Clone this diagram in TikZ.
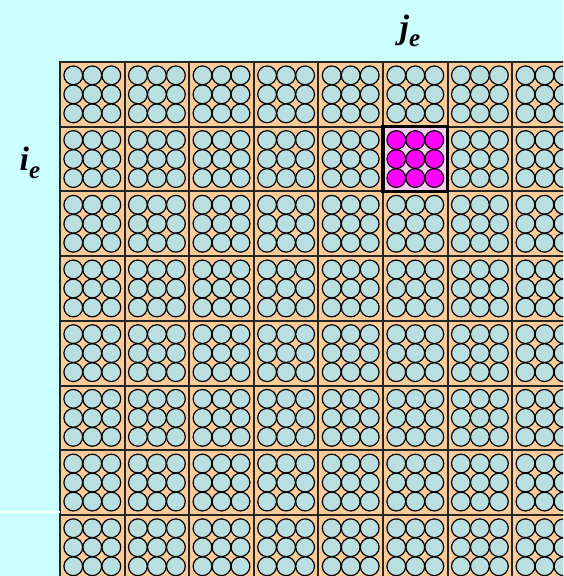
\documentclass[tikz,border=0pt]{standalone}
\usepackage{fontspec}
\setmainfont{Liberation Serif}
\usepackage{xcolor}
\definecolor{bgcyan}{RGB}{204,255,255}
\definecolor{peach}{RGB}{255,204,153}
\definecolor{pebble}{RGB}{186,223,225}
\definecolor{hlpink}{RGB}{252,204,240}
\definecolor{hlmag}{RGB}{255,0,255}

\begin{document}
\begin{tikzpicture}[x=1pt, y=-1pt,
  cell/.style={draw=black!85, line width=2pt, fill=peach},
  pin/.style={draw=black, line width=1.2pt, fill=pebble},
  hcell/.style={draw=black, line width=3.2pt, fill=hlpink},
  hpin/.style={draw=black, line width=1.2pt, fill=hlmag},
  lab/.style={font=\fontsize{34}{34}\selectfont\bfseries\itshape, inner sep=0pt}]
  \fill[bgcyan] (0,0) rectangle (563,576);
  \useasboundingbox (0,0) rectangle (563,576);
  \clip (0,0) rectangle (563,576);
  % 8 x 8 assemblies, 3 x 3 pins each
  \foreach \r in {0,...,7}
    \foreach \c in {0,...,7} {
      \draw[cell] ({60+64.6*\c},{62+64.7*\r}) rectangle ++(64.6,64.7);
      \foreach \u in {-1,0,1}
        \foreach \v in {-1,0,1}
          \draw[pin] ({92.3+64.6*\c+19*\u},{94.35+64.7*\r+19*\v}) circle[radius=9.4pt];
    }
  % selected assembly (i_e, j_e)
  \draw[hcell] (383,126.7) rectangle ++(64.6,64.7);
  \foreach \u in {-1,0,1}
    \foreach \v in {-1,0,1}
      \draw[hpin] ({415.3+19*\u},{159.05+19*\v}) circle[radius=9.4pt];
  \node[lab, anchor=base] (je) at (410,38) {j\raisebox{-8pt}{\fontsize{25}{25}\selectfont e}};
  \node[lab, anchor=base] (ie) at (30,170) {i\raisebox{-8pt}{\fontsize{25}{25}\selectfont e}};
  \draw[white, line width=1.5pt] (0,512) -- (60,512);
\end{tikzpicture}
\end{document}
